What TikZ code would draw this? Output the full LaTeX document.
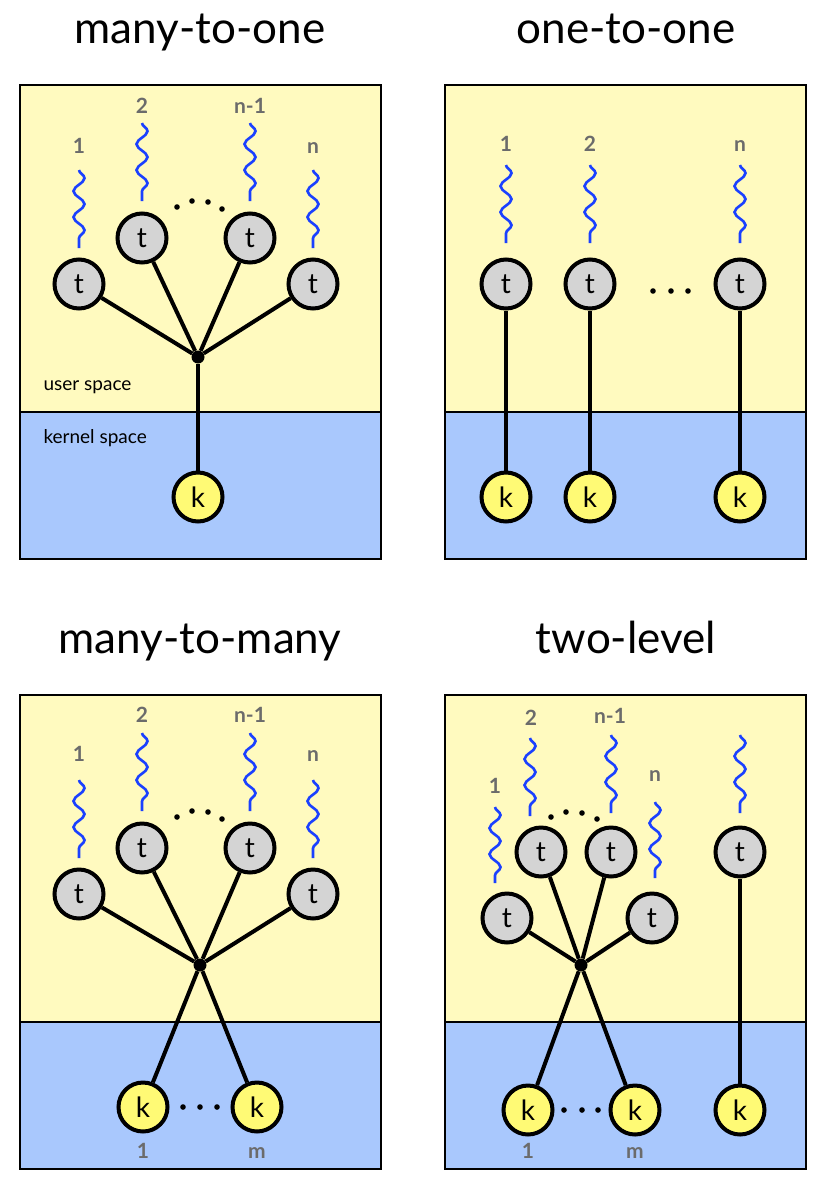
\documentclass[tikz,border=0pt]{standalone}
\usepackage{fontspec}
\setmainfont{Lato}
\usetikzlibrary{decorations.pathmorphing}
\definecolor{userbg}{RGB}{255,250,191}
\definecolor{kernbg}{RGB}{169,200,253}
\definecolor{tgray}{RGB}{212,212,212}
\definecolor{kyellow}{RGB}{255,250,117}
\definecolor{waveblue}{RGB}{26,64,255}
\definecolor{idxgray}{RGB}{107,107,107}

\begin{document}
\begin{tikzpicture}[x=1pt,y=-1pt,
    thr/.style={circle,draw,line width=4pt,fill=tgray,minimum size=49pt,
      inner sep=0pt,font=\fontsize{28}{28}\selectfont},
    kth/.style={thr,fill=kyellow},
    hub/.style={circle,fill=black,minimum size=13pt,inner sep=0pt},
    link/.style={line width=4pt},
    box/.style={line width=2pt},
    wave/.style={draw=waveblue,line width=2.6pt,decorate,
      decoration={snake,segment length=26pt,amplitude=5.5pt}},
    idx/.style={anchor=base,text=idxgray,font=\bfseries\fontsize{21}{21}\selectfont},
    title/.style={anchor=base,font=\fontsize{44}{44}\selectfont},
    space/.style={anchor=base west,font=\fontsize{19}{19}\selectfont}]
        \useasboundingbox (0,0) rectangle (832,1192);

        % panels
        \foreach \px/\py in {20/85,445/85,20/695,445/695}{
          \fill[userbg] (\px,\py) rectangle ++(361,327);
          \fill[kernbg] (\px,\py+327) rectangle ++(361,147);
          \draw[box] (\px,\py) rectangle ++(361,474);
          \draw[box] (\px,\py+327) -- ++(361,0);
        }

        \node[title] (ttla) at (200,43) {many-to-one};
        \node[title] (ttlb) at (626,43) {one-to-one};
        \node[title] (ttlc) at (200,653) {many-to-many};
        \node[title] (ttld) at (626,653) {two-level};

        % many-to-one
        \node[space] (us) at (40,390) {user space};
        \node[space] (ks) at (40,443) {kernel space};
        \node[thr] (a1) at (79,284) {t};
        \node[thr] (a2) at (142,238) {t};
        \node[thr] (a3) at (250,238) {t};
        \node[thr] (a4) at (313,284) {t};
        \node[hub] (ha) at (198,357) {};
        \node[kth] (ka) at (198,497) {k};
        \foreach \n in {1,...,4} \draw[link] (a\n) -- (ha);
        \draw[link] (ha) -- (ka);
        \draw[wave] (79,170) -- (79,248);
        \draw[wave] (142,123) -- (142,201);
        \draw[wave] (250,123) -- (250,201);
        \draw[wave] (313,170) -- (313,248);
        \node[idx] (la1) at (79,153) {1};
        \node[idx] (la2) at (142,113) {2};
        \node[idx] (la3) at (250,113) {n-1};
        \node[idx] (la4) at (313,153) {n};
        \foreach \p in {(177,207),(192,201),(208,202),(222,209)}
          \fill \p circle (2.8pt);

        % one-to-one
        \node[thr] (b1) at (506,284) {t};
        \node[thr] (b2) at (590,284) {t};
        \node[thr] (b3) at (740,284) {t};
        \node[kth] (kb1) at (506,497) {k};
        \node[kth] (kb2) at (590,497) {k};
        \node[kth] (kb3) at (740,497) {k};
        \foreach \n in {1,2,3} \draw[link] (b\n) -- (kb\n);
        \draw[wave] (506,165) -- (506,243);
        \draw[wave] (590,165) -- (590,243);
        \draw[wave] (740,165) -- (740,243);
        \node[idx] (lb1) at (506,151) {1};
        \node[idx] (lb2) at (590,151) {2};
        \node[idx] (lb3) at (740,151) {n};
        \foreach \p in {(653,291),(671,291),(688,291)}
          \fill \p circle (2.8pt);

        % many-to-many
        \node[thr] (c1) at (79,894) {t};
        \node[thr] (c2) at (142,848) {t};
        \node[thr] (c3) at (250,848) {t};
        \node[thr] (c4) at (313,894) {t};
        \node[hub] (hc) at (200,965) {};
        \node[kth] (kc1) at (143,1107) {k};
        \node[kth] (kc2) at (257,1107) {k};
        \foreach \n in {1,...,4} \draw[link] (c\n) -- (hc);
        \draw[link] (hc) -- (kc1);
        \draw[link] (hc) -- (kc2);
        \draw[wave] (79,780) -- (79,858);
        \draw[wave] (142,733) -- (142,811);
        \draw[wave] (250,733) -- (250,811);
        \draw[wave] (313,780) -- (313,858);
        \node[idx] (lc1) at (79,761) {1};
        \node[idx] (lc2) at (142,722) {2};
        \node[idx] (lc3) at (250,722) {n-1};
        \node[idx] (lc4) at (313,761) {n};
        \node[idx] (lkc1) at (143,1158) {1};
        \node[idx] (lkc2) at (257,1158) {m};
        \foreach \p in {(177,817),(192,811),(208,812),(222,819),
                        (183,1107),(200,1107),(217,1107)}
          \fill \p circle (2.8pt);

        % two-level
        \node[thr] (d1) at (507,918) {t};
        \node[thr] (d2) at (541,852) {t};
        \node[thr] (d3) at (611,852) {t};
        \node[thr] (d4) at (652,918) {t};
        \node[thr] (d5) at (740,852) {t};
        \node[hub] (hd) at (581,965) {};
        \node[kth] (kd1) at (528,1110) {k};
        \node[kth] (kd2) at (635,1110) {k};
        \node[kth] (kd3) at (740,1110) {k};
        \foreach \n in {1,...,4} \draw[link] (d\n) -- (hd);
        \draw[link] (hd) -- (kd1);
        \draw[link] (hd) -- (kd2);
        \draw[link] (d5) -- (kd3);
        \draw[wave] (495,807) -- (495,883);
        \draw[wave] (530,738) -- (530,816);
        \draw[wave] (611,735) -- (611,813);
        \draw[wave] (655,802) -- (655,878);
        \draw[wave] (740,735) -- (740,813);
        \node[idx] (ld1) at (495,793) {1};
        \node[idx] (ld2) at (531,725) {2};
        \node[idx] (ld3) at (610,723) {n-1};
        \node[idx] (ld4) at (655,781) {n};
        \node[idx] (lkd1) at (528,1158) {1};
        \node[idx] (lkd2) at (635,1158) {m};
        \foreach \p in {(551,817),(566,812),(582,813),(597,819),
                        (564,1110),(582,1110),(598,1110)}
          \fill \p circle (2.8pt);
      \end{tikzpicture}
\end{document}
